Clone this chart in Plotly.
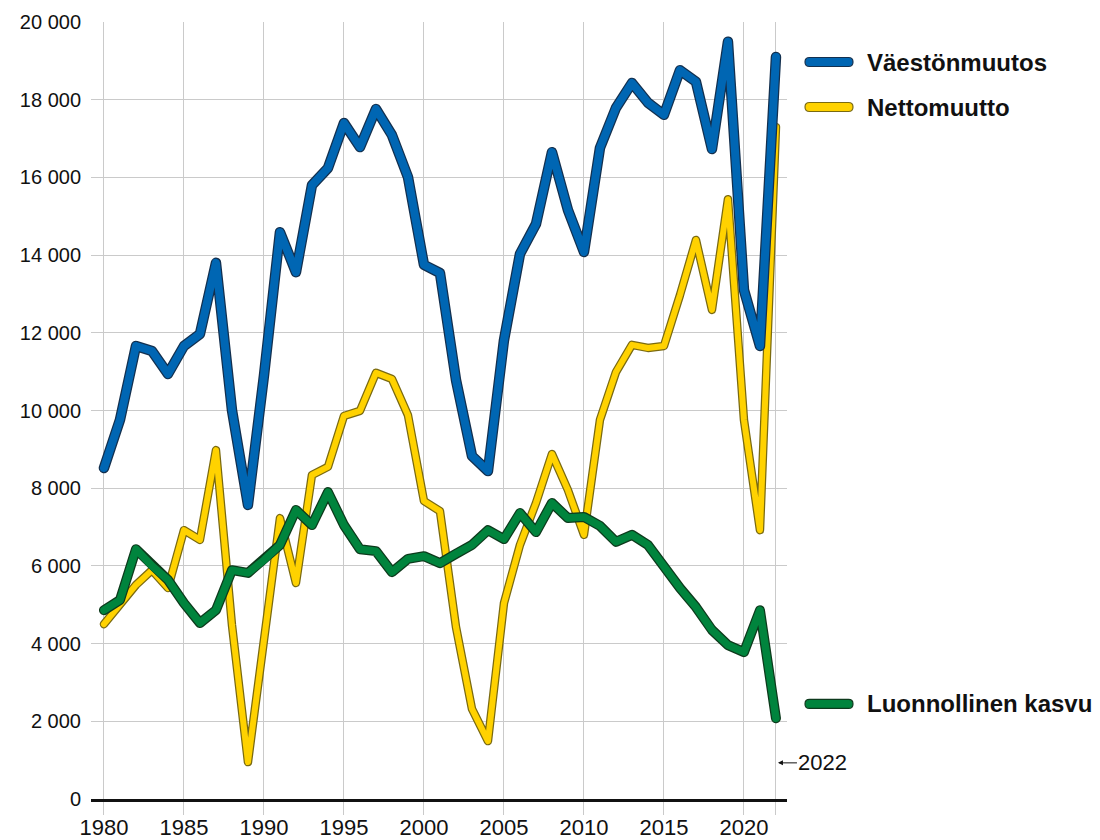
import plotly.graph_objects as go

years = list(range(1980, 2023))

vaestonmuutos = [8520, 9760, 11660, 11530, 10940, 11660, 11970, 13800, 10010, 7570,
                 10900, 14590, 13560, 15800, 16240, 17400, 16780, 17760, 17090, 16010,
                 13750, 13540, 10790, 8830, 8440, 11810, 14030, 14800, 16650, 15160,
                 14080, 16760, 17790, 18430, 17920, 17610, 18760, 18460, 16730, 19490,
                 13100, 11660, 19100]

nettomuutto = [4500, 5000, 5510, 5890, 5430, 6920, 6670, 8980, 4480, 950,
               4220, 7230, 5560, 8340, 8550, 9860, 9990, 10970, 10810, 9880,
               7670, 7410, 4430, 2320, 1490, 5040, 6540, 7620, 8880, 7950,
               6800, 9760, 10990, 11690, 11610, 11660, 12970, 14390, 12590, 15440,
               9760, 6920, 17300]

luonnollinen = [4860, 5120, 6430, 6000, 5640, 5040, 4530, 4860, 5890, 5820,
                6150, 6540, 7440, 7050, 7900, 7050, 6430, 6380, 5840, 6180,
                6250, 6070, 6310, 6540, 6920, 6690, 7360, 6870, 7620, 7230,
                7260, 7030, 6620, 6800, 6540, 5970, 5430, 4940, 4350, 3960,
                3780, 4860, 2080]

series_names = ["Nettomuutto", "Luonnollinen kasvu", "Väestönmuutos"]
series_values = [nettomuutto, luonnollinen, vaestonmuutos]
series_colors = ["#ffd200", "#00843d", "#0066b3"]
outline_colors = ["#7a6a10", "#0d3a1c", "#13304f"]
outer_widths = [8.5, 10, 10.5]
inner_widths = [6, 7.5, 8]

x_tickvals = [1980, 1985, 1990, 1995, 2000, 2005, 2010, 2015, 2020, 2022]
x_ticktext = ["1980", "1985", "1990", "1995", "2000", "2005", "2010", "2015", "2020", ""]
y_tickvals = list(range(0, 20001, 2000))
y_ticktext = ["0", "2 000", "4 000", "6 000", "8 000", "10 000", "12 000",
              "14 000", "16 000", "18 000", "20 000"]

FONT = "Liberation Sans, Arial, sans-serif"

fig = go.Figure()
for name, vals, col, ocol, ow, iw in zip(series_names, series_values, series_colors,
                                          outline_colors, outer_widths, inner_widths):
    fig.add_trace(go.Scatter(x=years, y=vals, mode="lines", name=name,
                             line=dict(color=ocol, width=ow, shape="linear"),
                             hoverinfo="skip", showlegend=False, cliponaxis=False))
    fig.add_trace(go.Scatter(x=years, y=vals, mode="lines", name=name,
                             line=dict(color=col, width=iw, shape="linear"),
                             showlegend=False, cliponaxis=False))

# Legend items (custom, placed beside the line ends)
legend_items = [("Väestönmuutos", "#0066b3", "#13304f", 0.9485),
                ("Nettomuutto", "#ffd200", "#7a6a10", 0.8906),
                ("Luonnollinen kasvu", "#00843d", "#0d3a1c", 0.1223)]

shapes = []
annotations = []
for label, col, ocol, ypos in legend_items:
    r = 4.5
    x0, x1 = 18, 66
    path = (f"M{x0 + r},{-r} L{x1 - r},{-r} "
            f"C{x1 + r * 0.33},{-r} {x1 + r * 0.33},{r} {x1 - r},{r} "
            f"L{x0 + r},{r} "
            f"C{x0 - r * 0.33},{r} {x0 - r * 0.33},{-r} {x0 + r},{-r} Z")
    shapes.append(dict(type="path", xref="paper", yref="paper",
                       xsizemode="pixel", ysizemode="pixel",
                       xanchor=1, yanchor=ypos, path=path,
                       fillcolor=col, line=dict(color=ocol, width=1.2)))
    annotations.append(dict(xref="paper", yref="paper", x=1, y=ypos,
                            xshift=78, text=f"<b>{label}</b>", showarrow=False,
                            xanchor="left", yanchor="middle",
                            font=dict(family=FONT, size=24, color="#111111")))

annotations.append(dict(x=2022, y=930, xref="x", yref="y", text="2022",
                        showarrow=True, arrowhead=2, arrowsize=1, arrowwidth=1,
                        arrowcolor="#111111", ax=47, ay=0, standoff=2,
                        font=dict(family=FONT, size=22, color="#111111")))

fig.update_layout(
    width=1100, height=840,
    margin=dict(l=83, r=321, t=14, b=49, autoexpand=False),
    paper_bgcolor="white", plot_bgcolor="white",
    font=dict(family=FONT, size=21, color="#111111"),
    showlegend=False,
    shapes=shapes,
    annotations=annotations,
    xaxis=dict(range=[1979.19, 2022.69], tickvals=x_tickvals, ticktext=x_ticktext,
               showgrid=True, gridcolor="#cacaca", gridwidth=1.2,
               ticks="outside", ticklen=13, tickcolor="#cacaca", tickwidth=1.2,
               showline=True, linecolor="#111111", linewidth=3,
               zeroline=False, tickfont=dict(size=22), ticklabelstandoff=-6,
               fixedrange=True, automargin=False),
    yaxis=dict(range=[0, 20000], tickvals=y_tickvals, ticktext=y_ticktext,
               showgrid=True, gridcolor="#cacaca", gridwidth=1.2,
               zeroline=False, ticks="", ticklabelstandoff=9,
               tickfont=dict(size=20), fixedrange=True, automargin=False),
)

post = """
var gd = document.getElementsByClassName('plotly-graph-div')[0];
function roundLines(){
  gd.querySelectorAll('.scatterlayer path.js-line').forEach(function(p){
    p.style.strokeLinejoin = 'round';
    p.style.strokeLinecap = 'round';
  });
}
roundLines();
gd.on('plotly_afterplot', roundLines);
"""

fig.write_html("out.html", post_script=post)
